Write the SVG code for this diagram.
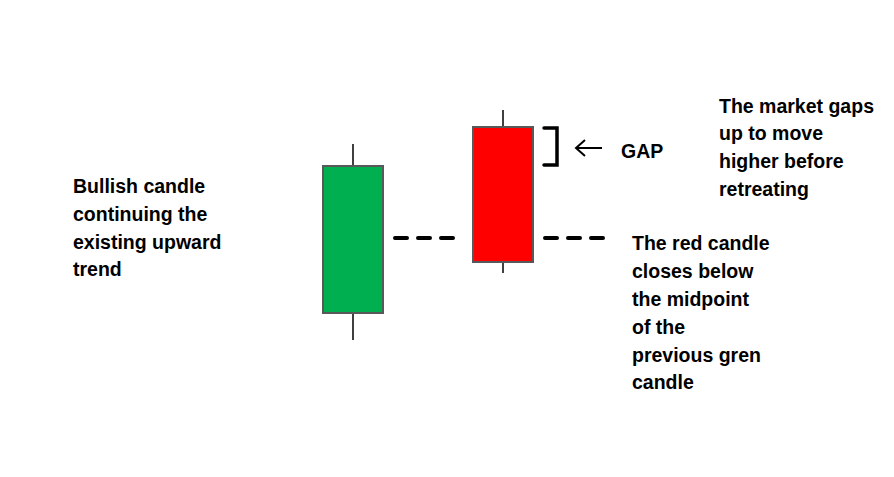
<svg xmlns="http://www.w3.org/2000/svg" width="894" height="477" viewBox="0 0 894 477">
<style>
.t{font-family:"Liberation Sans",Arial,sans-serif;font-weight:bold;font-size:19.5px;fill:#000}
.wick{stroke:#404040;stroke-width:2}
.body{stroke:#595959;stroke-width:2}
.dash{stroke:#000;stroke-width:4;stroke-dasharray:12 11;stroke-linecap:round}
</style>
<rect width="894" height="477" fill="#fff"/>
<g id="green-candle">
<line class="wick" x1="353" y1="144" x2="353" y2="340"/>
<rect class="body" x="323" y="166" width="60" height="147" fill="#00b050"/>
</g>
<g id="red-candle">
<line class="wick" x1="503" y1="110" x2="503" y2="273"/>
<rect class="body" x="473" y="127" width="60" height="135" fill="#ff0000"/>
</g>
<g id="connectors">
<line class="dash" x1="395" y1="238" x2="454" y2="238"/>
<line class="dash" x1="545" y1="238" x2="604" y2="238"/>
<path d="M544,128 H557 V165 H544" fill="none" stroke="#000" stroke-width="3.5" stroke-linejoin="miter" stroke-linecap="round"/>
<path d="M602,148 H576 M585,140 L576,148 L585,156" fill="none" stroke="#000" stroke-width="2"/>
</g>
<g id="label-gap"><text class="t" x="621" y="158" font-size="21.5">GAP</text></g>
<g id="label-bullish">
<text class="t" x="73" y="193">Bullish candle</text>
<text class="t" x="73" y="221">continuing the</text>
<text class="t" x="73" y="249">existing upward</text>
<text class="t" x="73" y="276">trend</text>
</g>
<g id="label-market">
<text class="t" x="719" y="113">The market gaps</text>
<text class="t" x="719" y="140">up to move</text>
<text class="t" x="719" y="168">higher before</text>
<text class="t" x="719" y="196">retreating</text>
</g>
<g id="label-red">
<text class="t" x="632" y="250">The red candle</text>
<text class="t" x="632" y="278">closes below</text>
<text class="t" x="632" y="306">the midpoint</text>
<text class="t" x="632" y="334">of the</text>
<text class="t" x="632" y="362">previous gren</text>
<text class="t" x="632" y="389">candle</text>
</g>
</svg>
